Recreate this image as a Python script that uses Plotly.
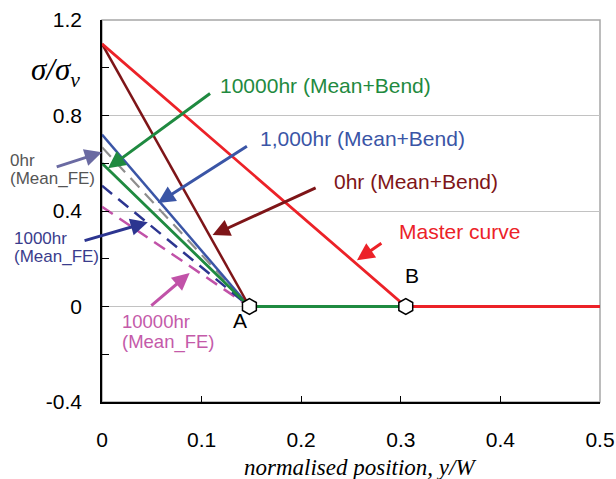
import plotly.graph_objects as go

# Stress profiles, sigma/sigma_v against normalised position y/W
x_master = [0.0, 0.305, 0.5]
y_master = [1.1, 0.0, 0.0]

x_mb0 = [0.0, 0.148]
y_mb0 = [1.1, 0.0]

x_mb1000 = [0.0, 0.148]
y_mb1000 = [0.72, 0.0]

x_mb10000 = [0.0, 0.148, 0.305]
y_mb10000 = [0.6, 0.0, 0.0]

x_fe0 = [0.0, 0.148]
y_fe0 = [0.667, 0.0]

x_fe1000 = [0.0, 0.148]
y_fe1000 = [0.506, 0.0]

x_fe10000 = [0.0, 0.148]
y_fe10000 = [0.418, 0.0]

# Points A and B (where profiles reach zero)
pt_labels = ["A", "B"]
pt_x = [0.148, 0.305]
pt_y = [0.0, 0.0]

x_ticks = [0.0, 0.1, 0.2, 0.3, 0.4, 0.5]
x_ticktext = ["0", "0.1", "0.2", "0.3", "0.4", "0.5"]
y_ticks = [-0.4, 0.0, 0.4, 0.8, 1.2]
y_ticktext = ["-0.4", "0", "0.4", "0.8", "1.2"]
y_minor = [-0.2, 0.2, 0.6, 1.0]

RED = "#ec2228"
DRED = "#7e1518"
BLUE = "#3a55a6"
GREEN = "#1f8a40"
NAVY = "#2c3590"
MAGENTA = "#c152a8"
GREY = "#8e8e8e"
GREY_ARROW = "#6a6aa2"

fig = go.Figure()

def line(x, y, color, width=2.5, dash=None):
    fig.add_trace(go.Scatter(x=x, y=y, mode="lines",
                             line=dict(color=color, width=width, dash=dash),
                             showlegend=False, hoverinfo="skip"))

line(x_fe10000, y_fe10000, MAGENTA, 2.5, "13px,8px")
line(x_fe1000, y_fe1000, NAVY, 2.5, "13px,8px")
line(x_fe0, y_fe0, GREY, 2.2, "13px,8px")
line(x_mb1000, y_mb1000, BLUE)
line(x_mb10000, y_mb10000, GREEN, 2.8)
line(x_mb0, y_mb0, DRED)
line(x_master, y_master, RED, 2.8)

fig.add_trace(go.Scatter(x=pt_x, y=pt_y, mode="markers",
                         marker=dict(symbol="hexagon", size=16, color="white",
                                     line=dict(color="black", width=1.5)),
                         showlegend=False, hoverinfo="skip"))

ann = []
ARIAL = "Arial, Liberation Sans, sans-serif"
SERIF = "Times New Roman, Liberation Serif, serif"

def label(x, y, text, color, size=21, ref="x"):
    yref = "y" if ref == "x" else "paper"
    ann.append(dict(x=x, y=y, xref=ref, yref=yref, text=text, showarrow=False,
                    xanchor="left", yanchor="middle",
                    font=dict(family=ARIAL, size=size, color=color)))

def arrow(tip_x, tip_y, tail_x, tail_y, color):
    ann.append(dict(x=tip_x, y=tip_y, ax=tail_x, ay=tail_y, xref="x", yref="y",
                    axref="x", ayref="y", text="", showarrow=True,
                    arrowhead=2, arrowsize=1.15, arrowwidth=3, arrowcolor=color,
                    standoff=0, startstandoff=0))

label(0.1165, 0.925, "10000hr (Mean+Bend)", GREEN)
label(0.1566, 0.703, "1,000hr (Mean+Bend)", BLUE)
label(0.231, 0.523, "0hr (Mean+Bend)", DRED)
label(0.296, 0.314, "Master curve", RED)

# Labels left of the plot area, placed in paper coordinates
label(-0.1887, 0.632, "0hr", "#555555", 17, ref="paper")
label(-0.1887, 0.585, "(Mean_FE)", "#555555", 17, ref="paper")
label(-0.1807, 0.428, "1000hr", "#3a3c8c", 17, ref="paper")
label(-0.1807, 0.381, "(Mean_FE)", "#3a3c8c", 17, ref="paper")
label(0.0185, -0.062, "10000hr", "#c45aa9", 18.5)
label(0.0185, -0.150, "(Mean_FE)", "#c45aa9", 18.5)

arrow(0.006, 0.579, 0.110, 0.897, GREEN)
arrow(0.056, 0.433, 0.147, 0.675, BLUE)
arrow(0.111, 0.299, 0.216, 0.500, DRED)
arrow(0.256, 0.194, 0.282, 0.269, RED)
arrow(0.0, 0.646, -0.047, 0.583, GREY_ARROW)
arrow(0.046, 0.353, -0.019, 0.274, NAVY)
arrow(0.088, 0.140, 0.048, -0.002, MAGENTA)

# Point labels
ann.append(dict(x=0.1386, y=-0.060, xref="x", yref="y", text=pt_labels[0],
                showarrow=False, font=dict(family=ARIAL, size=21, color="black")))
ann.append(dict(x=0.311, y=0.128, xref="x", yref="y", text=pt_labels[1],
                showarrow=False, font=dict(family=ARIAL, size=21, color="black")))

# Axis titles
ann.append(dict(x=-0.094, y=0.863, xref="paper", yref="paper",
                text="<i>σ/σ<sub>v</sub></i>", showarrow=False,
                xanchor="center", yanchor="middle",
                font=dict(family=SERIF, size=31, color="black")))
ann.append(dict(x=0.518, y=-0.1725, xref="paper", yref="paper",
                text="<i>normalised position, y/W</i>", showarrow=False,
                xanchor="center", yanchor="middle",
                font=dict(family=SERIF, size=23, color="black")))

fig.update_layout(
    width=616, height=479,
    margin=dict(l=102, r=16, t=20, b=77, autoexpand=False),
    paper_bgcolor="white", plot_bgcolor="white",
    annotations=ann,
    shapes=[dict(type="rect", xref="paper", yref="paper", x0=0, y0=0, x1=1, y1=1,
                 line=dict(color="#a6a6a6", width=1.5), layer="below")],
    xaxis=dict(range=[0, 0.5], tickvals=x_ticks, ticktext=x_ticktext,
               ticks="inside", ticklen=6, tickcolor="black", tickwidth=1,
               showgrid=False, zeroline=False, showline=True,
               linecolor="black", linewidth=1.5, automargin=False,
               ticklabelstandoff=18,
               tickfont=dict(family=ARIAL, size=21, color="black")),
    yaxis=dict(range=[-0.4, 1.2], tickvals=y_ticks, ticktext=y_ticktext,
               ticks="inside", ticklen=7, tickcolor="black", tickwidth=1,
               minor=dict(tickvals=y_minor, ticks="inside", ticklen=7,
                          tickcolor="black", tickwidth=1, showgrid=False),
               showgrid=True, gridcolor="#c2c2c2", gridwidth=1,
               zeroline=False, showline=True, linecolor="black", linewidth=1.5,
               automargin=False, ticklabelstandoff=14,
               tickfont=dict(family=ARIAL, size=21, color="black")),
)

fig.write_html("out.html")
